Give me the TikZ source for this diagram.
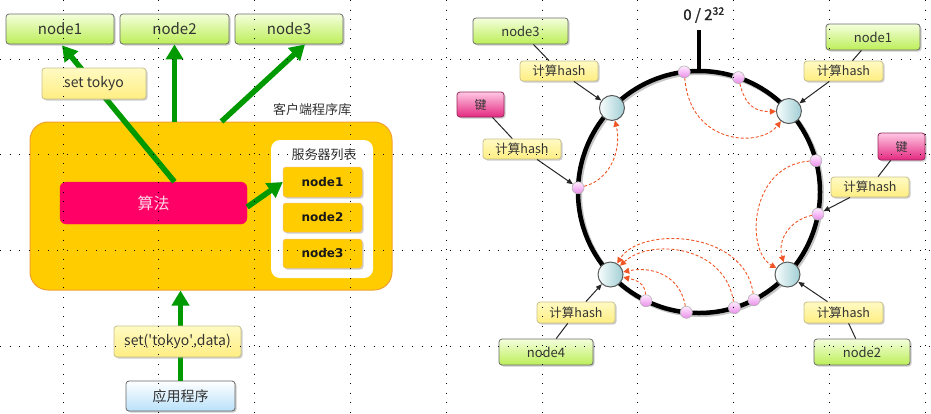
\documentclass[tikz,border=0pt]{standalone}
\usepackage{fontspec}
\setmainfont{Noto Sans CJK SC}
\newfontfamily\dvs{DejaVu Sans}
\newfontfamily\zerofont[FakeBold=1.2]{Noto Sans CJK SC}
\usetikzlibrary{arrows.meta,shadows,calc}
\newcommand\myfs[1]{\fontsize{#1}{#1}\selectfont}
\definecolor{gr}{HTML}{009900}
\definecolor{orng}{HTML}{FFCC00}
\definecolor{orngd}{HTML}{F0A030}
\definecolor{mag}{HTML}{FF0066}
\definecolor{redd}{HTML}{F05525}
\definecolor{txt}{HTML}{333333}
\begin{document}
\begin{tikzpicture}[x=1pt,y=-1pt,
  shad/.style={drop shadow={shadow xshift=1.5pt,shadow yshift=-1.5pt,opacity=.4}},
  greenbox/.style={draw=gray!85!black, line width=.8pt, rounded corners=3pt, top color={rgb,255:red,244;green,255;blue,220}, bottom color={rgb,255:red,188;green,238;blue,88}, shad, text=txt, inner sep=0pt},
  yellowbox/.style={draw={rgb,255:red,200;green,192;blue,140}, line width=.8pt, rounded corners=3pt, top color={rgb,255:red,255;green,250;blue,195}, bottom color={rgb,255:red,255;green,238;blue,130}, shad, text=txt, inner sep=0pt},
  pinkbox/.style={draw={rgb,255:red,150;green,40;blue,90}, line width=.8pt, rounded corners=3pt, top color={rgb,255:red,255;green,200;blue,228}, bottom color={rgb,255:red,228;green,40;blue,128}, shad, text=txt, inner sep=0pt},
  bluebox/.style={draw=gray!80!black, line width=.8pt, rounded corners=3pt, top color=white, bottom color={rgb,255:red,185;green,225;blue,250}, shad, text=txt, inner sep=0pt},
  innerbox/.style={draw=orngd!70, line width=.5pt, rounded corners=3pt, fill=orng, shad, inner sep=0pt, font=\dvs\bfseries\myfs{12}, text=black!90},
  server/.style={circle, minimum size=25, inner sep=0pt, draw=gray!70!black, line width=1pt, left color={rgb,255:red,248;green,253;blue,253}, right color={rgb,255:red,160;green,206;blue,212}},
  pinkdot/.style={circle, minimum size=12, inner sep=0pt, draw=gray!60, line width=.6pt, top color={rgb,255:red,255;green,236;blue,255}, bottom color={rgb,255:red,234;green,140;blue,234}},
  garrow/.style={draw=gr, line width=5.5pt, -{Triangle[length=15pt,width=17pt]}},
  bline/.style={draw=black!85, line width=1pt},
  barrow/.style={draw=black!85, line width=1pt, -{Triangle[length=6pt,width=5pt]}},
  rarrow/.style={draw=redd, line width=.9pt, dash pattern=on 3pt off 2pt, -{Triangle[length=6pt,width=6pt]}},
  gridline/.style={draw=black, line width=.9pt, dash pattern=on .9pt off 8.68pt}
]
\useasboundingbox (0,0) rectangle (931,413);
% ---------------- left diagram ----------------
\node[draw=orngd, line width=1pt, fill=orng, rounded corners=18pt, minimum width=362, minimum height=168, inner sep=0pt] (lib) at (211,206) {};
\node[text=txt, font=\myfs{13}] (liblabel) at (312,110) {客户端程序库};
\node[fill=mag, draw=mag!80!orange, rounded corners=6pt, minimum width=187, minimum height=42, inner sep=0pt, text={rgb,255:red,255;green,215;blue,230}, font=\myfs{16}] (algo) at (153.5,203) {算法};
\node[fill=white, rounded corners=9pt, minimum width=102, minimum height=138, inner sep=0pt] (srv) at (322,209) {};
\node[text=txt, font=\myfs{13}] (srvlabel) at (324,155) {服务器列表};
\node[innerbox, minimum width=79, minimum height=30] (i1) at (322.5,182) {node1};
\node[innerbox, minimum width=79, minimum height=29] (i2) at (322.5,217.5) {node2};
\node[innerbox, minimum width=79, minimum height=29] (i3) at (322.5,253.5) {node3};

\node[greenbox, minimum width=108, minimum height=30, font=\myfs{15}] (t1) at (60,29) {node1};
\node[greenbox, minimum width=109, minimum height=30, font=\myfs{15}] (t2) at (174.5,29) {node2};
\node[greenbox, minimum width=108, minimum height=30, font=\myfs{15}] (t3) at (289,29) {node3};
\node[bluebox, minimum width=109, minimum height=30, font=\myfs{14}] (app) at (180.5,396) {应用程序};

\draw[garrow] (app.north) -- (app.north |- lib.south);
\draw[garrow] (algo.north -| t2.south) -- ($(t1.south)+(2,1)$);
\draw[garrow] (lib.north -| t2.south) -- (t2.south);
\draw[garrow] ($(lib.north west)+(192,0)$) -- ($(t3.south)+(16,0)$);
\draw[garrow] ($(algo.east)+(0,4)$) -- (i1.west);

\node[yellowbox, minimum width=104, minimum height=31, font=\myfs{14}] (settokyo) at (94,83.5) {set tokyo};
\node[yellowbox, minimum width=127, minimum height=31, font=\myfs{14}] (setdata) at (177.5,341.5) {set(\textquotesingle tokyo\textquotesingle,data)};

% ---------------- right diagram ----------------
\coordinate (C) at (699,192);
\draw[gray!45, line width=5pt] ($(C)+(1.5,1.5)$) circle[radius=121];
\draw[black, line width=4.5pt] (C) circle[radius=121];
\coordinate (tk) at (699,30);
\draw[black, line width=4pt] (tk) -- ($(C)+(0,-121)$);
\node[text=black!85, font=\zerofont\myfs{15}] (zero) at (704,15) {0 / 2\textsuperscript{32}};

\node[server] (sTL) at ($(C)+(-136:121)$) {};
\node[server] (sTR) at ($(C)+(-42:121)$) {};
\node[server] (sBL) at ($(C)+(137:121)$) {};
\node[server] (sBR) at ($(C)+(43:121)$) {};

\node[pinkdot] (p1) at ($(C)+(-97:121)$) {};
\node[pinkdot] (p2) at ($(C)+(-71:121)$) {};
\node[pinkdot] (p3) at ($(C)+(-15:121)$) {};
\node[pinkdot] (p4) at ($(C)+(10.5:121)$) {};
\node[pinkdot] (p5) at ($(C)+(-178:121)$) {};
\node[pinkdot] (p6) at ($(C)+(116:121)$) {};
\node[pinkdot] (p7) at ($(C)+(96:121)$) {};
\node[pinkdot] (p8) at ($(C)+(73:121)$) {};
\node[pinkdot] (p9) at ($(C)+(63:121)$) {};

% red dashed curves
\draw[rarrow] (p1) .. controls (690,145) and (760,148) .. (sTR);
\draw[rarrow] (p2) .. controls (745,105) and (755,112) .. (sTR);
\draw[rarrow] (p5) .. controls (610,180) and (622,150) .. (sTL);
\draw[rarrow] (p3) .. controls (750,165) and (745,250) .. (sBR);
\draw[rarrow] (p4) .. controls (790,220) and (777,240) .. (sBR);
\draw[rarrow] (p9) .. controls (745,230) and (640,226) .. (sBL);
\draw[rarrow] (p8) .. controls (725,245) and (650,238) .. (sBL);
\draw[rarrow] (p7) .. controls (680,275) and (652,266) .. (sBL);
\draw[rarrow] (p6) .. controls (645,283) and (636,280) .. (sBL);

% labels
\node[greenbox, minimum width=95, minimum height=26, font=\myfs{13}] (rn3) at (520.5,31) {node3};
\node[yellowbox, minimum width=78, minimum height=20, font=\myfs{12.5}] (h1) at (559,71) {计算hash};
\node[pinkbox, minimum width=47, minimum height=25, font=\myfs{12}] (kL) at (480.5,104.5) {键};
\node[yellowbox, minimum width=78, minimum height=20, font=\myfs{12.5}] (h2) at (522,149) {计算hash};
\node[greenbox, minimum width=94, minimum height=26, font=\myfs{13}] (rn1) at (873,37) {node1};
\node[yellowbox, minimum width=79, minimum height=20, font=\myfs{12.5}] (h3) at (843.5,71) {计算hash};
\node[pinkbox, minimum width=47, minimum height=27, font=\myfs{12}] (kR) at (901.5,146.5) {键};
\node[yellowbox, minimum width=78, minimum height=20, font=\myfs{12.5}] (h4) at (870,187) {计算hash};
\node[yellowbox, minimum width=78, minimum height=21, font=\myfs{12.5}] (h5) at (576,312.5) {计算hash};
\node[greenbox, minimum width=94, minimum height=26, font=\myfs{13}] (rn4) at (546,352) {node4};
\node[yellowbox, minimum width=79, minimum height=21, font=\myfs{12.5}] (h6) at (843.5,312.5) {计算hash};
\node[greenbox, minimum width=96, minimum height=26, font=\myfs{13}] (rn2) at (862,352) {node2};

\draw[bline] (rn3) -- (h1);
\draw[barrow] (h1) -- (sTL);
\draw[bline] (kL) -- (h2);
\draw[barrow] (h2) -- (p5);
\draw[bline] (rn1) -- (h3);
\draw[barrow] (h3) -- (sTR);
\draw[bline] (kR) -- (h4);
\draw[barrow] (h4) -- (p4);
\draw[bline] (rn4) -- (h5);
\draw[barrow] (h5) -- (sBL);
\draw[bline] (rn2) -- (h6);
\draw[barrow] (h6) -- (sBR);

% dotted grid
\foreach \gx in {63,158.8,254.6,350.4,446.2,542,637.8,733.6,829.4,925.2}
  \draw[gridline] (\gx,0) -- (\gx,413);
\foreach \gy in {59,154.8,250.6,346.4}
  \draw[gridline] (0,\gy) -- (931,\gy);
\end{tikzpicture}
\end{document}
